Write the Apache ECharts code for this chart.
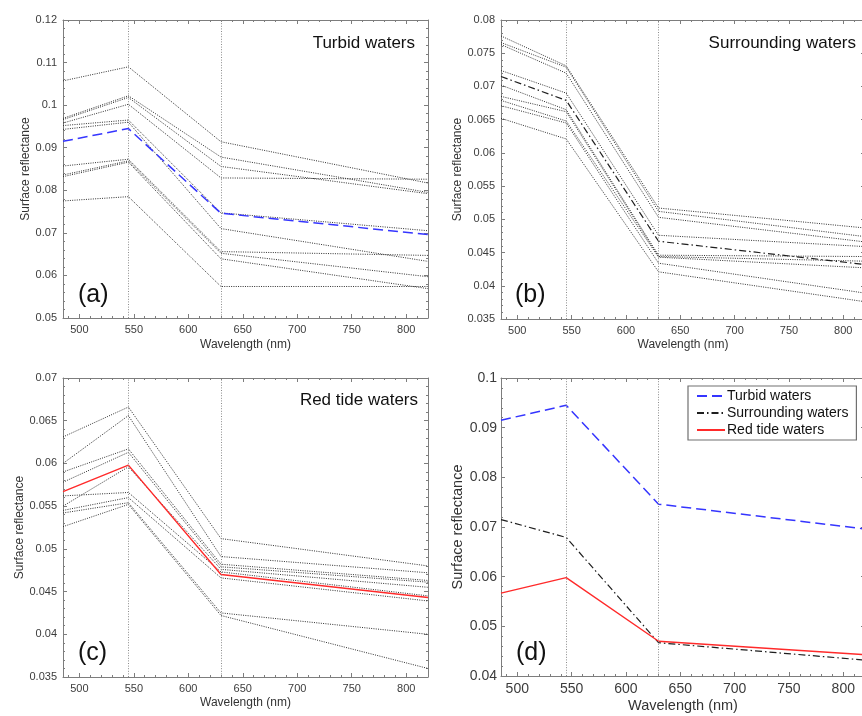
<!DOCTYPE html>
<html><head><meta charset="utf-8">
<script src="https://cdn.jsdelivr.net/npm/echarts@6/dist/echarts.min.js"></script>
<style>html,body{margin:0;padding:0;background:#fff}#c{width:862px;height:716px}</style>
</head><body><div id="c"></div><script>
// ---------------- data ----------------
const wavelengths = [485, 545, 630, 820];
const refLines = [545, 630];

const turbidSamples = [
  [0.1057, 0.1090, 0.0914, 0.0817],
  [0.0969, 0.1022, 0.0878, 0.0795],
  [0.0966, 0.1018, 0.0856, 0.0792],
  [0.0958, 0.1002, 0.0829, 0.0826],
  [0.0952, 0.0965, 0.0747, 0.0705],
  [0.0943, 0.0960, 0.0710, 0.0633],
  [0.0857, 0.0873, 0.0656, 0.0647],
  [0.0836, 0.0869, 0.0652, 0.0597],
  [0.0832, 0.0866, 0.0639, 0.0569],
  [0.0775, 0.0785, 0.0574, 0.0574]
];
const turbidMean = [0.0915, 0.0945, 0.0746, 0.0696];

const surroundingSamples = [
  [0.0776, 0.0731, 0.0517, 0.0487],
  [0.0766, 0.0729, 0.0512, 0.0474],
  [0.0763, 0.0720, 0.0503, 0.0466],
  [0.0724, 0.0690, 0.0476, 0.0459],
  [0.0702, 0.0665, 0.0446, 0.0444],
  [0.0685, 0.0662, 0.0444, 0.0437],
  [0.0679, 0.0648, 0.0443, 0.0427],
  [0.0671, 0.0645, 0.0434, 0.0389],
  [0.0652, 0.0621, 0.0421, 0.0376]
];
const surroundingMean = [0.0715, 0.0679, 0.0467, 0.0432];

const redTideSamples = [
  [0.0631, 0.0666, 0.0512, 0.0480],
  [0.0600, 0.0656, 0.0491, 0.0472],
  [0.0590, 0.0617, 0.0482, 0.0463],
  [0.0578, 0.0613, 0.0479, 0.0461],
  [0.0550, 0.0596, 0.0476, 0.0455],
  [0.0562, 0.0566, 0.0473, 0.0445],
  [0.0545, 0.0560, 0.0466, 0.0439],
  [0.0542, 0.0554, 0.0425, 0.0400],
  [0.0526, 0.0552, 0.0422, 0.0360]
];
const redTideMean = [0.0567, 0.0598, 0.0470, 0.0443];

const legendNames = ['Turbid waters', 'Surrounding waters', 'Red tide waters'];
const xLabel = 'Wavelength (nm)';
const yLabel = 'Surface reflectance';

// ---------------- styles ----------------
const FONT = '"Liberation Sans", Arial, Helvetica, sans-serif';
const AXIS_COLOR = '#7d7d7d';
const LABEL_COLOR = '#3c3c3c';
const blueStyle = {color: '#3535ff', width: 1.5, type: [10, 5]};
const dashDotStyle = {color: '#1e1e1e', width: 1.2, type: [7, 3, 1.5, 3]};
const redStyle = {color: '#ff2a2a', width: 1.4, type: 'solid'};
const grayStyle = {color: '#303030', width: 1, type: [1, 1.3]};

const panels = [
  {grid: {left: 63, top: 20, width: 365, height: 298}, y: [0.05, 0.12, 0.01],
   fs: 11, nfs: 12, yGap: 31, xGap: 21, yMargin: 6},
  {grid: {left: 501, top: 20, width: 364, height: 299}, y: [0.035, 0.08, 0.005],
   fs: 11, nfs: 12, yGap: 36, xGap: 20, yMargin: 6},
  {grid: {left: 63, top: 378, width: 365, height: 299}, y: [0.035, 0.07, 0.005],
   fs: 11, nfs: 12, yGap: 36, xGap: 20, yMargin: 6},
  {grid: {left: 501, top: 378, width: 364, height: 298}, y: [0.04, 0.1, 0.01],
   fs: 14, nfs: 14.5, yGap: 34, xGap: 22, yMargin: 4}
];

const grids = [], xAxes = [], yAxes = [], series = [];
panels.forEach((p, i) => {
  grids.push(Object.assign({containLabel: false, outerBoundsMode: 'none'}, p.grid));
  const common = {
    gridIndex: i, type: 'value',
    axisLine: {show: true, onZero: false, lineStyle: {color: AXIS_COLOR, width: 1}},
    axisTick: {show: true, inside: true, length: 4, lineStyle: {color: AXIS_COLOR}},
    minorTick: {show: true, splitNumber: 5, length: 2, lineStyle: {color: AXIS_COLOR}},
    splitLine: {show: false}, minorSplitLine: {show: false}
  };
  xAxes.push(Object.assign({}, common, {
    position: 'bottom', min: wavelengths[0], max: wavelengths[wavelengths.length - 1],
    name: xLabel, nameLocation: 'middle', nameGap: p.xGap,
    nameTextStyle: {fontFamily: FONT, fontSize: p.nfs, color: '#333'},
    axisLabel: {show: true, margin: 6, fontFamily: FONT, fontSize: p.fs, color: LABEL_COLOR,
      formatter: v => (Math.round(v) % 50 === 0 ? String(Math.round(v)) : '')}
  }));
  xAxes.push(Object.assign({}, common, {
    position: 'top', min: wavelengths[0], max: wavelengths[wavelengths.length - 1],
    axisLabel: {show: false}
  }));
  yAxes.push(Object.assign({}, common, {
    position: 'left', min: p.y[0], max: p.y[1], interval: p.y[2],
    name: yLabel, nameLocation: 'middle', nameGap: p.yGap,
    nameTextStyle: {fontFamily: FONT, fontSize: p.nfs, color: '#333'},
    axisLabel: {show: true, margin: p.yMargin, fontFamily: FONT, fontSize: p.fs, color: LABEL_COLOR}
  }));
  yAxes.push(Object.assign({}, common, {
    position: 'right', min: p.y[0], max: p.y[1], interval: p.y[2],
    axisLabel: {show: false}
  }));
});

const pts = arr => arr.map((v, k) => [wavelengths[k], v]);
const refMark = {
  silent: true, symbol: ['none', 'none'], label: {show: false},
  lineStyle: {color: '#8c8c8c', width: 1, type: [1, 1.6]},
  emphasis: {disabled: true},
  data: refLines.map(v => ({xAxis: v}))
};
function addLine(gi, data, style, name, mark) {
  const s = {
    type: 'line', xAxisIndex: gi * 2, yAxisIndex: gi * 2, data: pts(data),
    symbol: 'none', showSymbol: false, silent: true, animation: false,
    lineStyle: Object.assign({}, style), itemStyle: {color: style.color},
    emphasis: {disabled: true}, z: 2
  };
  if (name) s.name = name;
  if (mark) s.markLine = refMark;
  series.push(s);
}
const groups = [
  [turbidSamples, turbidMean, blueStyle],
  [surroundingSamples, surroundingMean, dashDotStyle],
  [redTideSamples, redTideMean, redStyle]
];
groups.forEach((g, gi) => {
  g[0].forEach((row, r) => addLine(gi, row, grayStyle, null, r === 0));
  addLine(gi, g[1], g[2], 'mean-' + gi, false);
});
addLine(3, turbidMean, blueStyle, legendNames[0], true);
addLine(3, surroundingMean, dashDotStyle, legendNames[1], false);
addLine(3, redTideMean, redStyle, legendNames[2], false);

const txt = (text, x, y, size, align) => ({
  type: 'text', x: x, y: y, silent: true, z: 10,
  style: {text: text, font: size + 'px ' + FONT, fill: '#111', textAlign: align, textVerticalAlign: 'middle'}
});

const option = {
  backgroundColor: '#fff',
  animation: false,
  grid: grids, xAxis: xAxes, yAxis: yAxes, series: series,
  legend: {
    data: legendNames, orient: 'vertical', left: 688, top: 386,
    padding: [3, 8, 3, 8], itemGap: 3, itemWidth: 28, itemHeight: 14,
    backgroundColor: '#fff', borderColor: '#707070', borderWidth: 1.2,
    itemStyle: {color: 'rgba(0,0,0,0)', borderColor: 'rgba(0,0,0,0)', borderWidth: 0, opacity: 0},
    textStyle: {fontFamily: FONT, fontSize: 14, color: '#111', padding: [0, 0, 0, -3]},
    selectedMode: false
  },
  graphic: [
    txt('Turbid waters', 415, 43, 17, 'right'),
    txt('Surrounding waters', 856, 43, 17, 'right'),
    txt('Red tide waters', 418, 400, 17, 'right'),
    txt('(a)', 78, 295, 25, 'left'),
    txt('(b)', 515, 295, 25, 'left'),
    txt('(c)', 78, 653, 25, 'left'),
    txt('(d)', 516, 653, 25, 'left')
  ]
};
const chart = echarts.init(document.getElementById('c'), null, {renderer: 'canvas'});
chart.setOption(option);
</script></body></html>
